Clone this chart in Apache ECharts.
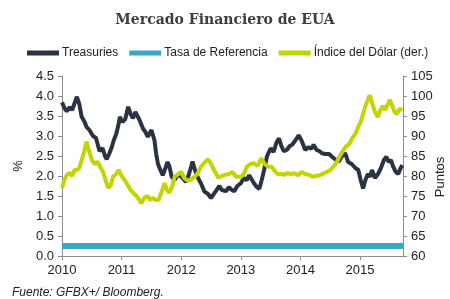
<!DOCTYPE html>
<html>
<head>
<meta charset="utf-8">
<script src="https://cdn.jsdelivr.net/npm/echarts@6/dist/echarts.min.js"></script>
<style>
	html, body { margin: 0; padding: 0; background: #fff; }
	#chart { width: 450px; height: 299px; }
</style>
</head>
<body>
<div id="chart"></div>
<script>
// 时间(年, 小数) 与 数值
const treasuriesT = [
	2010.0, 2010.04, 2010.08, 2010.13, 2010.17, 2010.25, 2010.29, 2010.33, 2010.38, 2010.41,
	2010.46, 2010.52, 2010.57, 2010.63, 2010.68, 2010.72, 2010.75, 2010.79, 2010.83, 2010.87,
	2010.91, 2010.95, 2010.97, 2011.01, 2011.06, 2011.11, 2011.15, 2011.19, 2011.23, 2011.26,
	2011.3, 2011.36, 2011.4, 2011.44, 2011.5, 2011.55, 2011.58, 2011.61, 2011.65, 2011.69,
	2011.73, 2011.77, 2011.8, 2011.84, 2011.89, 2011.95, 2012.0, 2012.04, 2012.08, 2012.12,
	2012.17, 2012.19, 2012.23, 2012.28, 2012.33, 2012.39, 2012.45, 2012.5, 2012.53, 2012.58,
	2012.64, 2012.68, 2012.75, 2012.8, 2012.85, 2012.89, 2012.94, 2013.0, 2013.05, 2013.1,
	2013.14, 2013.18, 2013.22, 2013.27, 2013.31, 2013.35, 2013.39, 2013.44, 2013.5, 2013.55,
	2013.6, 2013.64, 2013.68, 2013.72, 2013.77, 2013.82, 2013.86, 2013.92, 2013.97, 2014.02,
	2014.08, 2014.13, 2014.18, 2014.22, 2014.27, 2014.32, 2014.36, 2014.42, 2014.48, 2014.53,
	2014.58, 2014.64, 2014.7, 2014.75, 2014.8, 2014.86, 2014.92, 2014.97, 2015.01, 2015.05,
	2015.09, 2015.13, 2015.17, 2015.2, 2015.25, 2015.3, 2015.35, 2015.4, 2015.44, 2015.48,
	2015.52, 2015.55, 2015.6, 2015.64, 2015.68, 2015.71,
]
const treasuriesVal = [
	3.84, 3.7, 3.62, 3.72, 3.65, 3.98, 3.8, 3.48, 3.35, 3.23,
	3.15, 3.0, 2.95, 2.62, 2.7, 2.5, 2.42, 2.55, 2.7, 2.9,
	3.05, 3.3, 3.48, 3.35, 3.42, 3.73, 3.55, 3.44, 3.6, 3.55,
	3.4, 3.18, 3.1, 2.98, 3.15, 2.9, 2.55, 2.3, 2.15, 2.02,
	2.18, 2.35, 2.25, 1.98, 1.9, 2.05, 1.98, 1.92, 1.85, 2.0,
	2.25, 2.36, 2.15, 1.96, 1.82, 1.61, 1.55, 1.45, 1.44, 1.62,
	1.75, 1.65, 1.62, 1.72, 1.65, 1.62, 1.75, 1.82, 1.95, 1.9,
	2.02, 1.92, 1.82, 1.72, 1.68, 1.9, 2.15, 2.5, 2.69, 2.6,
	2.85, 2.94, 2.75, 2.62, 2.65, 2.75, 2.78, 2.9, 3.02, 2.88,
	2.65, 2.72, 2.68, 2.78, 2.65, 2.62, 2.57, 2.55, 2.55, 2.48,
	2.42, 2.36, 2.5, 2.57, 2.35, 2.3, 2.2, 2.15, 1.9, 1.69,
	1.9, 2.05, 1.98, 2.15, 1.95, 2.05, 2.2, 2.4, 2.48, 2.35,
	2.4, 2.25, 2.1, 2.05, 2.2, 2.27,
]
const tasaT = [2010.0, 2015.72]
const tasaVal = [0.25, 0.25]
const dolarT = [
	2010.0, 2010.04, 2010.08, 2010.13, 2010.17, 2010.21, 2010.25, 2010.29, 2010.33, 2010.37,
	2010.41, 2010.45, 2010.5, 2010.55, 2010.6, 2010.65, 2010.69, 2010.74, 2010.78, 2010.82,
	2010.86, 2010.9, 2010.95, 2011.0, 2011.05, 2011.1, 2011.15, 2011.2, 2011.25, 2011.33,
	2011.38, 2011.43, 2011.48, 2011.52, 2011.57, 2011.62, 2011.67, 2011.72, 2011.76, 2011.8,
	2011.85, 2011.89, 2011.95, 2012.0, 2012.05, 2012.1, 2012.15, 2012.2, 2012.27, 2012.33,
	2012.4, 2012.45, 2012.5, 2012.55, 2012.62, 2012.68, 2012.74, 2012.8, 2012.86, 2012.92,
	2013.0, 2013.05, 2013.1, 2013.16, 2013.22, 2013.28, 2013.34, 2013.4, 2013.46, 2013.52,
	2013.58, 2013.62, 2013.67, 2013.72, 2013.78, 2013.84, 2013.9, 2013.96, 2014.02, 2014.08,
	2014.14, 2014.2, 2014.26, 2014.32, 2014.38, 2014.44, 2014.5, 2014.56, 2014.61, 2014.66,
	2014.72, 2014.77, 2014.82, 2014.87, 2014.92, 2014.97, 2015.01, 2015.05, 2015.09, 2015.13,
	2015.16, 2015.19, 2015.22, 2015.26, 2015.3, 2015.34, 2015.38, 2015.42, 2015.46, 2015.5,
	2015.54, 2015.58, 2015.62, 2015.66, 2015.71,
]
const dolarVal = [
	77.0, 79.0, 80.3, 80.8, 80.0, 81.5, 81.5, 82.0, 84.0, 86.0,
	88.6, 86.5, 84.0, 83.0, 83.5, 82.0, 81.0, 78.5, 77.0, 77.8,
	80.0, 80.3, 81.5, 80.0, 79.0, 77.8, 76.5, 75.7, 75.0, 73.2,
	74.5, 75.0, 74.0, 74.5, 74.0, 74.0, 76.0, 78.2, 76.5, 75.8,
	77.5, 79.8, 80.5, 81.0, 79.5, 78.9, 79.0, 79.5, 80.5, 82.3,
	83.5, 84.2, 83.0, 81.5, 79.6, 80.0, 80.3, 80.5, 81.0, 79.8,
	79.8, 80.5, 82.3, 83.0, 83.2, 82.5, 84.4, 83.0, 82.3, 82.3,
	81.0, 80.5, 80.5, 80.3, 80.7, 80.5, 80.7, 80.2, 81.0, 80.5,
	80.3, 79.8, 80.0, 80.2, 80.6, 81.0, 81.5, 82.5, 83.5, 85.0,
	86.5, 87.5, 88.0, 89.5, 90.5, 92.3, 93.5, 95.5, 97.5, 99.0,
	100.2, 99.0, 97.3, 95.7, 94.8, 96.5, 97.5, 96.5, 97.8, 99.0,
	97.5, 96.0, 95.5, 96.8, 96.5,
]
const leftTicks = { min: 0, max: 4.5, interval: 0.5 }
const rightTicks = { min: 60, max: 105, interval: 5 }

const zip = (ts, vs) => ts.map((t, i) => [t, vs[i]])

const AXIS_COLOR = '#8c8c8c'
const LABEL_COLOR = '#222'

const myChart = echarts.init(document.getElementById('chart'))
const option = {
	animation: false,
	title: {
		text: 'Mercado Financiero de EUA',
		left: 'center',
		top: 8,
		textStyle: {
			fontFamily: 'DejaVu Serif',
			fontWeight: 'bold',
			fontSize: 14,
			color: '#3d3d3d',
		},
	},
	legend: {
		left: 22,
		top: 42,
		itemWidth: 32,
		itemHeight: 5,
		itemGap: 11,
		icon: 'rect',
		data: ['Treasuries', 'Tasa de Referencia', 'Índice del Dólar (der.)'],
		textStyle: { fontFamily: 'Liberation Sans', fontSize: 12, color: '#222', padding: [0, 0, 0, -2] },
	},
	grid: { left: 62, right: 47, top: 76, bottom: 43 },
	xAxis: {
		type: 'value',
		min: 2010,
		max: 2015.72,
		interval: 1,
		axisLine: { lineStyle: { color: AXIS_COLOR } },
		axisTick: { show: true, length: 4, lineStyle: { color: AXIS_COLOR } },
		splitLine: { show: false },
		axisLabel: {
			showMaxLabel: false,
			margin: 8,
			fontFamily: 'Liberation Sans',
			fontSize: 13,
			color: LABEL_COLOR,
			formatter: (v) => String(Math.round(v)),
		},
	},
	yAxis: [
		{
			type: 'value',
			...leftTicks,
			name: '%',
			nameLocation: 'middle',
			nameGap: 33,
			nameTextStyle: { fontFamily: 'Liberation Sans', fontSize: 13, color: LABEL_COLOR },
			axisLine: { show: true, lineStyle: { color: AXIS_COLOR } },
			axisTick: { show: true, length: 4, lineStyle: { color: AXIS_COLOR } },
			splitLine: { show: false },
			axisLabel: {
				margin: 8,
				fontFamily: 'Liberation Sans',
				fontSize: 13,
				color: LABEL_COLOR,
				formatter: (v) => v.toFixed(1),
			},
		},
		{
			type: 'value',
			...rightTicks,
			position: 'right',
			axisLine: { show: true, lineStyle: { color: AXIS_COLOR } },
			axisTick: { show: true, length: 4, lineStyle: { color: AXIS_COLOR } },
			splitLine: { show: false },
			axisLabel: {
				margin: 8,
				fontFamily: 'Liberation Sans',
				fontSize: 13,
				color: LABEL_COLOR,
			},
		},
	],
	graphic: [
		{
			type: 'text',
			x: 440,
			y: 177,
			rotation: Math.PI / 2,
			style: {
				text: 'Puntos',
				fontFamily: 'Liberation Sans',
				fontSize: 13,
				fill: LABEL_COLOR,
				align: 'center',
				verticalAlign: 'middle',
			},
		},
		{
			type: 'text',
			left: 12,
			top: 287,
			style: {
				text: 'Fuente: GFBX+/ Bloomberg.',
				fontFamily: 'Liberation Sans',
				fontStyle: 'italic',
				fontSize: 12,
				fill: '#222',
			},
		},
	],
	series: [
		{
			name: 'Treasuries',
			type: 'line',
			yAxisIndex: 0,
			data: zip(treasuriesT, treasuriesVal),
			showSymbol: false,
			symbol: 'none',
			itemStyle: { color: '#2b3343' },
			lineStyle: { color: '#2b3343', width: 4 },
			z: 2,
		},
		{
			name: 'Tasa de Referencia',
			type: 'line',
			yAxisIndex: 0,
			data: zip(tasaT, tasaVal),
			showSymbol: false,
			symbol: 'none',
			itemStyle: { color: '#38a9c4' },
			lineStyle: { color: '#38a9c4', width: 6 },
			z: 2,
		},
		{
			name: 'Índice del Dólar (der.)',
			type: 'line',
			yAxisIndex: 1,
			data: zip(dolarT, dolarVal),
			showSymbol: false,
			symbol: 'none',
			itemStyle: { color: '#c2d500' },
			lineStyle: { color: '#c2d500', width: 4 },
			z: 3,
		},
	],
}
myChart.setOption(option)
</script>
</body>
</html>
